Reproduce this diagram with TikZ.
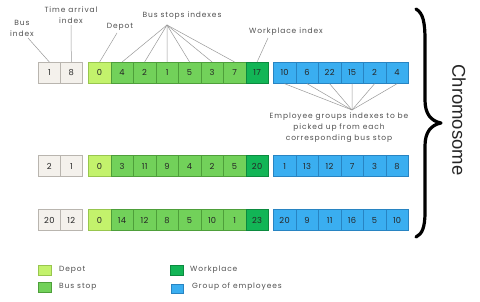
\documentclass[tikz,border=0pt]{standalone}
\usepackage{fontspec}
\setmainfont{Poppins}
\newfontfamily\chromfont{Liberation Sans}
\definecolor{beige}{HTML}{F4F1EC}
\definecolor{beigeb}{HTML}{B9B5AF}
\definecolor{depotc}{HTML}{C3F26C}
\definecolor{depotb}{HTML}{98C64E}
\definecolor{stopc}{HTML}{72D15A}
\definecolor{stopb}{HTML}{4E9F3A}
\definecolor{workc}{HTML}{12B556}
\definecolor{workb}{HTML}{0B8A3F}
\definecolor{empc}{HTML}{3AAEF0}
\definecolor{empb}{HTML}{2884C2}
\definecolor{labc}{HTML}{505050}
\begin{document}
\begin{tikzpicture}[x=1pt,y=-1pt,
  cellbox/.style={draw, minimum width=22.5pt, minimum height=21pt, inner sep=0pt, anchor=north west,
    font=\fontsize{8.3}{9}\selectfont\addfontfeature{LetterSpace=4}, text=black!85, line width=0.7pt},
  idxcell/.style={cellbox, fill=beige, draw=beigeb, minimum width=22pt},
  depotcell/.style={cellbox, fill=depotc, draw=depotb},
  stopcell/.style={cellbox, fill=stopc, draw=stopb},
  workcell/.style={cellbox, fill=workc, draw=workb},
  empcell/.style={cellbox, fill=empc, draw=empb},
  lab/.style={font=\fontsize{7.5}{11}\selectfont\addfontfeature{LetterSpace=12}, text=labc, align=center, inner sep=0pt},
  lead/.style={draw=black!40, line width=0.5pt},
  legbox/.style={draw, minimum width=12.5pt, minimum height=9.5pt, inner sep=0pt, anchor=north west, line width=0.6pt},
  legtext/.style={font=\fontsize{7.5}{8}\selectfont\addfontfeature{LetterSpace=12}, text=labc, anchor=west, inner sep=0pt}]
\useasboundingbox (0,0) rectangle (480,302);
\fill[white] (0,0) rectangle (480,302);

\foreach \row/\yy/\a/\b/\g/\w/\e in {
  1/62/1/8/{4,2,1,5,3,7}/17/{10,6,22,15,2,4},
  2/155.5/2/1/{3,11,9,4,2,5}/20/{1,13,12,7,3,8},
  3/209.5/20/12/{14,12,8,5,10,1}/23/{20,9,11,16,5,10}}{
  \node[idxcell] (r\row a) at (38,\yy) {\a};
  \node[idxcell] (r\row b) at (60,\yy) {\b};
  \node[depotcell] (r\row g0) at (88,\yy) {0};
  \foreach \v [count=\i] in \g {
    \node[stopcell] (r\row g\i) at (88+22.5*\i,\yy) {\v};
  }
  \node[workcell] (r\row g7) at (245.5,\yy) {\w};
  \foreach \v [count=\i] in \e {
    \node[empcell] (r\row e\i) at (273+22.5*\i-22.5,\yy) {\v};
  }
}

% labels and leaders
\node[lab] (busidx) at (22,28) {Bus\\index};
\coordinate (busidxend) at (28,38);
\draw[lead] (busidxend) -- (r1a.north);

\node[lab] (timearr) at (71,15) {Time arrival\\index};
\draw[lead] (timearr.south) ++(0,1.5) -- (r1b.north);

\node[lab] (depotl) at (120,27) {Depot};
\coordinate (depotend) at (117,33);
\draw[lead] (depotend) -- (r1g0.north);

\node[lab] (busstops) at (182,16) {Bus stops indexes};
\coordinate (bsconv) at (167,25);
\foreach \i in {1,...,6} { \draw[lead] (bsconv) -- (r1g\i.north); }

\node[lab] (workl) at (286,32) {Workplace index};
\coordinate (workend) at (268,38);
\draw[lead] (workend) -- (r1g7.north);

\coordinate (empconv) at (352,110);
\foreach \i in {1,...,6} { \draw[lead] (r1e\i.south) -- (empconv); }
\node[lab, anchor=north] (empl) at (339,113) {Employee groups indexes to be\\picked up from each\\corresponding bus stop};

% brace
\draw[line width=3.2pt, line cap=round, line join=round]
  (416,9) .. controls (423,13) and (425,22) .. (425,40) -- (425,100)
  .. controls (425,114) and (431,121) .. (441,123)
  .. controls (431,125) and (425,132) .. (425,146) -- (425,212)
  .. controls (425,228) and (422,234) .. (416,237);
\node[font=\chromfont\fontsize{18.5}{20}\selectfont, text=black!85, rotate=-90, inner sep=0pt] (chrom) at (459,120) {Chromosome};

% legend
\node[legbox, fill=depotc, draw=depotb] (lg1) at (38,265.5) {};
\node[legtext] (lt1) at (59,270) {Depot};
\node[legbox, fill=stopc, draw=stopb] (lg2) at (38,282.5) {};
\node[legtext] (lt2) at (59,287) {Bus stop};
\node[legbox, fill=workc, draw=workb] (lg3) at (170,265.5) {};
\node[legtext] (lt3) at (190,270) {Workplace};
\node[legbox, fill=empc, draw=empb] (lg4) at (170.5,284) {};
\node[legtext] (lt4) at (192,287) {Group of employees};
\end{tikzpicture}
\end{document}
